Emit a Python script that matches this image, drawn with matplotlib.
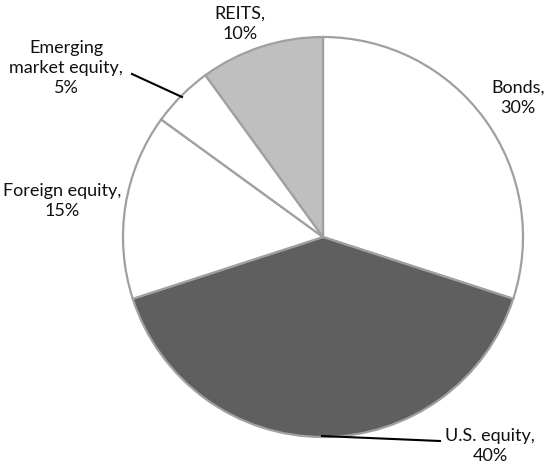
import matplotlib
matplotlib.use("Agg")
import matplotlib.pyplot as plt

labels = ["Bonds", "U.S. equity", "Foreign equity", "Emerging\nmarket equity", "REITS"]
values = [30, 40, 15, 5, 10]
colors = ["#ffffff", "#5f5f5f", "#ffffff", "#ffffff", "#bfbfbf"]

W, H = 550, 469
fig = plt.figure(figsize=(W / 100, H / 100), dpi=100)
ax = fig.add_axes([0, 0, 1, 1])
ax.set_xlim(0, W)
ax.set_ylim(0, H)
ax.set_aspect("equal")
ax.axis("off")

cx, cy, r = 323, H - 237, 200
ax.pie(values, colors=colors, startangle=90, counterclock=False,
       center=(cx, cy), radius=r,
       wedgeprops=dict(edgecolor="#a0a0a0", linewidth=1.6))
ax.set_xlim(0, W)
ax.set_ylim(0, H)

font = dict(family=["Lato", "DejaVu Sans"], fontsize=13, color="#111111",
            ha="center", va="center", linespacing=1.3)
pos = [(518, 98), (490, 446), (62, 201), (66, 68), (240, 24)]
for lab, v, (x, y) in zip(labels, values, pos):
    ax.text(x, H - y, f"{lab},\n{v}%", **font)

# leader lines
ax.plot([132, 182], [H - 74, H - 97], color="black", lw=1.5)
ax.plot([322, 440], [H - 436, H - 441], color="black", lw=1.5)

fig.savefig("out.png", dpi=100)
